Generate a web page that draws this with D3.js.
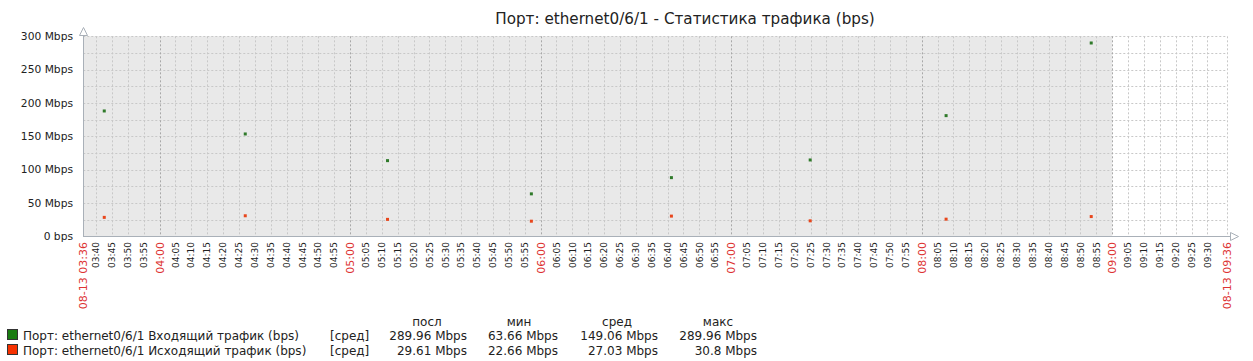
<!DOCTYPE html>
<html><head><meta charset="utf-8">
<script src="https://cdn.jsdelivr.net/npm/d3@7/dist/d3.min.js"></script>
<style>
html,body{margin:0;padding:0;background:#fff;}
svg{display:block;font-family:"DejaVu Sans",sans-serif;}
</style></head>
<body>
<script>
const title = "Порт: ethernet0/6/1 - Статистика трафика (bps)";
const day = "2024-08-13";
const timeStart = "03:36:00";
const timeEnd = "09:36:00";
const dataEnd = "09:00:00";
const pointTimes = ["03:42:36","04:27:00","05:11:48","05:57:06","06:41:12","07:24:54","08:07:42","08:53:24"];
const inValues = [188, 153.5, 113.5, 63.66, 88, 114.5, 181, 289.96];
const outValues = [28.4, 30.8, 25.4, 22.66, 30.3, 23.2, 25.7, 29.61];
const yTicks = [0, 50, 100, 150, 200, 250, 300];
const yTickLabels = ["0 bps","50 Mbps","100 Mbps","150 Mbps","200 Mbps","250 Mbps","300 Mbps"];
const seriesNames = ["Порт: ethernet0/6/1 Входящий трафик (bps)", "Порт: ethernet0/6/1 Исходящий трафик (bps)"];
const statHeaders = ["посл","мин","сред","макс"];
const inStats = ["289.96 Mbps","63.66 Mbps","149.06 Mbps","289.96 Mbps"];
const outStats = ["29.61 Mbps","22.66 Mbps","27.03 Mbps","30.8 Mbps"];

const W = 1253, H = 361;
const m = {left: 83.3, right: 1226.5, top: 36.3, bottom: 236.3};
const parse = d3.utcParse("%Y-%m-%d %H:%M:%S");
const t0 = parse(day + " " + timeStart), t1 = parse(day + " " + timeEnd), tData = parse(day + " " + dataEnd);
const x = d3.scaleUtc().domain([t0, t1]).range([m.left, m.right]);
const y = d3.scaleLinear().domain([0, 300]).range([m.bottom, m.top]);

const svg = d3.select("body").append("svg").attr("width", W).attr("height", H);

// title
svg.append("text").attr("x", 685).attr("y", 24).attr("text-anchor", "middle")
  .attr("font-size", 15.2).attr("fill", "#222").text(title);

// background of data region
svg.append("rect").attr("x", m.left).attr("y", m.top).attr("width", x(tData) - m.left)
  .attr("height", m.bottom - m.top).attr("fill", "#e9e9e9");

// grid: horizontal every 25
const hGrid = d3.range(25, 301, 25);
svg.append("g").selectAll("line").data(hGrid).join("line")
  .attr("x1", m.left).attr("x2", m.right).attr("y1", d => Math.round(y(d)) + 0.5).attr("y2", d => Math.round(y(d)) + 0.5)
  .attr("stroke", "#c8c8c8").attr("stroke-dasharray", "2,2");

// vertical grid every 5 minutes (skip those too close to the end)
const minorTimes = d3.utcMinute.every(5).range(d3.utcMinute.offset(t0, 1), t1)
  .filter(d => (t1 - d) > 3 * 60000);
svg.append("g").selectAll("line").data(minorTimes).join("line")
  .attr("x1", d => Math.round(x(d)) + 0.5).attr("x2", d => Math.round(x(d)) + 0.5)
  .attr("y1", m.top).attr("y2", m.bottom)
  .attr("stroke", d => d.getUTCMinutes() === 0 ? "#a8a8a8" : "#c8c8c8")
  .attr("stroke-dasharray", "2,2");
// right border grid
svg.append("line").attr("x1", Math.round(m.right)+0.5).attr("x2", Math.round(m.right)+0.5)
  .attr("y1", m.top).attr("y2", m.bottom).attr("stroke", "#c8c8c8").attr("stroke-dasharray", "2,2");

// axes lines with arrows
const axisColor = "#a9b0b8";
svg.append("line").attr("x1", 83.5).attr("x2", 83.5).attr("y1", 30).attr("y2", m.bottom + 0.5).attr("stroke", axisColor);
svg.append("path").attr("d", "M79.5,35.5 L83.5,27.5 L87.5,35.5 Z").attr("fill", "#fff").attr("stroke", axisColor);
svg.append("line").attr("x1", 83).attr("x2", 1232).attr("y1", 236.5).attr("y2", 236.5).attr("stroke", axisColor);
svg.append("path").attr("d", "M1230.5,232.5 L1238.5,236.5 L1230.5,240.5 Z").attr("fill", "#fff").attr("stroke", axisColor);

// y labels
svg.append("g").selectAll("text").data(yTicks).join("text")
  .attr("x", 73).attr("y", d => y(d)).attr("dy", "0.35em").attr("text-anchor", "end")
  .attr("font-size", 10.7).attr("fill", "#222").text((d, i) => yTickLabels[i]);

// x labels
const fmt = d3.utcFormat("%H:%M");
const xl = svg.append("g");
minorTimes.forEach(d => {
  const hour = d.getUTCMinutes() === 0;
  xl.append("text").attr("transform", `translate(${x(d) + (hour ? 4 : 3.2)},${242}) rotate(-90)`)
    .attr("text-anchor", "end").attr("font-size", hour ? 11 : 9)
    .attr("fill", hour ? "#d33" : "#222").text(fmt(d));
});
const fmtFull = d3.utcFormat("%m-%d %H:%M");
[t0, t1].forEach(d => {
  xl.append("text").attr("transform", `translate(${x(d) + 4},${242}) rotate(-90)`)
    .attr("text-anchor", "end").attr("font-size", 11).attr("fill", "#d33").text(fmtFull(d));
});

// points
const pts = pointTimes.map((t, i) => ({t: parse(day + " " + t), vin: inValues[i], vout: outValues[i]}));
svg.append("g").selectAll("rect").data(pts).join("rect")
  .attr("x", d => x(d.t) - 1.5).attr("y", d => y(d.vin) - 1.5).attr("width", 3).attr("height", 3).attr("fill", "#2f7a2a");
svg.append("g").selectAll("rect").data(pts).join("rect")
  .attr("x", d => x(d.t) - 1.5).attr("y", d => y(d.vout) - 1.5).attr("width", 3).attr("height", 3).attr("fill", "#e8461c");

// legend
const lg = svg.append("g").attr("font-size", 12).attr("fill", "#222");
const statRight = [467, 558, 658, 757];
const headerCenter = [427, 519, 617, 718];
statHeaders.forEach((h, i) => lg.append("text").attr("x", headerCenter[i]).attr("y", 326).attr("text-anchor", "middle").text(h));
const rows = [
  {name: seriesNames[0], color: "#1a7c11", stats: inStats, y: 340},
  {name: seriesNames[1], color: "#f63100", stats: outStats, y: 355}
];
rows.forEach(r => {
  lg.append("rect").attr("x", 7.5).attr("y", r.y - 10.5).attr("width", 10).attr("height", 10)
    .attr("fill", r.color).attr("stroke", "#333");
  lg.append("text").attr("x", 23).attr("y", r.y).text(r.name);
  lg.append("text").attr("x", 330).attr("y", r.y).text("[сред]");
  r.stats.forEach((s, i) => lg.append("text").attr("x", statRight[i]).attr("y", r.y).attr("text-anchor", "end").text(s));
});
</script>
</body></html>
